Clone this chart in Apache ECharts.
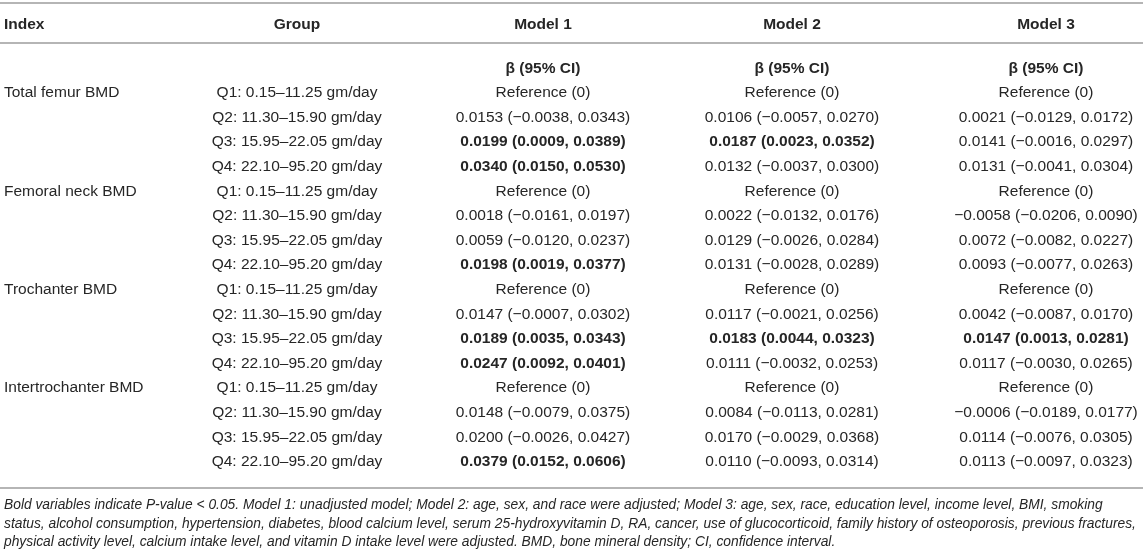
<!DOCTYPE html>
<html>
<head>
<meta charset="utf-8">
<script src="https://cdn.jsdelivr.net/npm/echarts@6/dist/echarts.min.js"></script>
<style>
  html, body { margin: 0; padding: 0; background: #fff; }
  #table_chart { width: 1143px; height: 557px; }
</style>
</head>
<body>
<div id="table_chart"></div>
<script>
// table content
var headers = ['Index', 'Group', 'Model 1', 'Model 2', 'Model 3'];
var subHeader = 'β (95% CI)';
var indices = ['Total femur BMD', 'Femoral neck BMD', 'Trochanter BMD', 'Intertrochanter BMD'];
var groups = ['Q1: 0.15–11.25 gm/day', 'Q2: 11.30–15.90 gm/day', 'Q3: 15.95–22.05 gm/day', 'Q4: 22.10–95.20 gm/day'];

// [beta, lower, upper], null = reference group
var model1 = [
  null, [0.0153, -0.0038, 0.0343], [0.0199, 0.0009, 0.0389], [0.0340, 0.0150, 0.0530],
  null, [0.0018, -0.0161, 0.0197], [0.0059, -0.0120, 0.0237], [0.0198, 0.0019, 0.0377],
  null, [0.0147, -0.0007, 0.0302], [0.0189, 0.0035, 0.0343], [0.0247, 0.0092, 0.0401],
  null, [0.0148, -0.0079, 0.0375], [0.0200, -0.0026, 0.0427], [0.0379, 0.0152, 0.0606]
];
var model2 = [
  null, [0.0106, -0.0057, 0.0270], [0.0187, 0.0023, 0.0352], [0.0132, -0.0037, 0.0300],
  null, [0.0022, -0.0132, 0.0176], [0.0129, -0.0026, 0.0284], [0.0131, -0.0028, 0.0289],
  null, [0.0117, -0.0021, 0.0256], [0.0183, 0.0044, 0.0323], [0.0111, -0.0032, 0.0253],
  null, [0.0084, -0.0113, 0.0281], [0.0170, -0.0029, 0.0368], [0.0110, -0.0093, 0.0314]
];
var model3 = [
  null, [0.0021, -0.0129, 0.0172], [0.0141, -0.0016, 0.0297], [0.0131, -0.0041, 0.0304],
  null, [-0.0058, -0.0206, 0.0090], [0.0072, -0.0082, 0.0227], [0.0093, -0.0077, 0.0263],
  null, [0.0042, -0.0087, 0.0170], [0.0147, 0.0013, 0.0281], [0.0117, -0.0030, 0.0265],
  null, [-0.0006, -0.0189, 0.0177], [0.0114, -0.0076, 0.0305], [0.0113, -0.0097, 0.0323]
];
// rows printed in bold (P < 0.05)
var bold1 = [2, 3, 7, 10, 11, 15];
var bold2 = [2, 10];
var bold3 = [10];

var footnote = [
  'Bold variables indicate P-value < 0.05. Model 1: unadjusted model; Model 2: age, sex, and race were adjusted; Model 3: age, sex, race, education level, income level, BMI, smoking',
  'status, alcohol consumption, hypertension, diabetes, blood calcium level, serum 25-hydroxyvitamin D, RA, cancer, use of glucocorticoid, family history of osteoporosis, previous fractures,',
  'physical activity level, calcium intake level, and vitamin D intake level were adjusted. BMD, bone mineral density; CI, confidence interval.'
];

// layout
var FONT = '"Liberation Sans", Arial, Helvetica, sans-serif';
var TEXT_COLOR = '#262626';
var COL_X = [4, 297, 543, 792, 1046]; // first column is left-aligned, others centred
var HEADER_ROW = -2.78, SUB_ROW = -0.98;

function fmt(v) {
  return (v < 0 ? '−' : '') + Math.abs(v).toFixed(4);
}
function cellText(m) {
  if (!m) return 'Reference (0)';
  return fmt(m[0]) + ' (' + fmt(m[1]) + ', ' + fmt(m[2]) + ')';
}

// build cells: [x, row], col, text, bold
var cells = [];
function addCell(c, row, text, bold) {
  cells.push({ value: [COL_X[c], row], col: c, text: text, bold: bold });
}
headers.forEach(function (h, c) {
  addCell(c, HEADER_ROW, h, true);
});
[2, 3, 4].forEach(function (c) {
  addCell(c, SUB_ROW, subHeader, true);
});
for (var r = 0; r < 16; r++) {
  if (r % 4 === 0) addCell(0, r, indices[r / 4], false);
  addCell(1, r, groups[r % 4], false);
  addCell(2, r, cellText(model1[r]), bold1.indexOf(r) >= 0);
  addCell(3, r, cellText(model2[r]), bold2.indexOf(r) >= 0);
  addCell(4, r, cellText(model3[r]), bold3.indexOf(r) >= 0);
}

var table_chart = echarts.init(document.getElementById('table_chart'));

table_chart.setOption({
  backgroundColor: '#fff',
  animation: false,
  grid: { left: 0, right: 0, top: 2, bottom: 68 },
  xAxis: { type: 'value', min: 0, max: 1143, show: false },
  yAxis: { type: 'value', min: -3.7, max: 16.1, inverse: true, show: false },
  series: [{
    type: 'custom',
    clip: false,
    silent: true,
    data: cells,
    encode: { x: 0, y: 1 },
    renderItem: function (params, api) {
      var d = cells[params.dataIndex];
      var p = api.coord([api.value(0), api.value(1)]);
      return {
        type: 'text',
        x: p[0],
        y: p[1],
        style: {
          text: d.text,
          align: d.col === 0 ? 'left' : 'center',
          verticalAlign: 'middle',
          fontFamily: FONT,
          fontSize: 15.5,
          fontWeight: d.bold ? 'bold' : 'normal',
          fill: TEXT_COLOR
        }
      };
    },
    markLine: {
      silent: true,
      symbol: 'none',
      label: { show: false },
      lineStyle: { color: '#b5b5b5', width: 2, type: 'solid' },
      data: [{ yAxis: -3.66 }, { yAxis: -2.04 }, { yAxis: 16.05 }]
    }
  }],
  graphic: [{
    type: 'text',
    left: 4,
    top: 496,
    style: {
      text: footnote.join('\n'),
      fontFamily: FONT,
      fontSize: 13.8,
      fontStyle: 'italic',
      lineHeight: 18.5,
      fill: TEXT_COLOR
    }
  }]
});
</script>
</body>
</html>
